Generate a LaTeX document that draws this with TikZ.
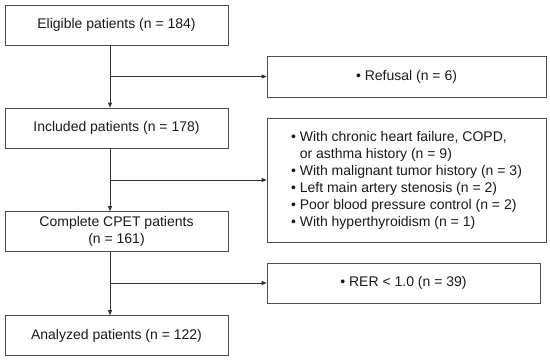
\documentclass[tikz,border=0pt]{standalone}
\usepackage{fontspec}
\setmainfont{Liberation Sans}
\usetikzlibrary{arrows.meta}

\begin{document}
\begin{tikzpicture}[x=1pt,y=-1pt,line width=0.7pt,>={Triangle[length=5pt,width=4pt]},
  box/.style={draw=black!70,rectangle,inner sep=0pt,minimum height=40pt,
    font=\fontsize{14}{17}\selectfont,text=black!90},
  mainbox/.style={box,minimum width=223pt},
  sidebox/.style={box,minimum width=279pt},
  flow/.style={draw=black!80,->}]
\def\sx{110} % x of the main flow line
\useasboundingbox (0,0) rectangle (550,360);
% ---- main column ----
\node[mainbox] (elig) at (116.5,25) {Eligible patients (n = 184)};
\node[mainbox] (incl) at (116.5,128) {Included patients (n = 178)};
\node[mainbox,align=center] (cpet) at (116.5,231.5) {Complete CPET patients\\(n = 161)};
\node[mainbox] (anal) at (116.5,335.5) {Analyzed patients (n = 122)};
\coordinate (spine) at (\sx,0);
% ---- exclusion boxes ----
\node[sidebox,minimum height=41pt] (refu) at (406.5,76.5) {\textbullet\ Refusal (n = 6)};
\node[sidebox,minimum height=124pt,align=left] (excl) at (406.5,180)
  {\textbullet\ With chronic heart failure, COPD,\\
   \phantom{\textbullet\ }or asthma history (n = 9)\\
   \textbullet\ With malignant tumor history (n = 3)\\
   \textbullet\ Left main artery stenosis (n = 2)\\
   \textbullet\ Poor blood pressure control (n = 2)\\
   \textbullet\ With hyperthyroidism (n = 1)};
\node[box,minimum width=273pt] (rer) at (403.5,283) {\textbullet\ RER < 1.0 (n = 39)};
% ---- connectors ----
\draw[flow] (elig.south -| spine) -- (incl.north -| spine);
\draw[flow] (incl.south -| spine) -- (cpet.north -| spine);
\draw[flow] (cpet.south -| spine) -- (anal.north -| spine);
\foreach \b in {refu,excl,rer}
  \draw[flow] (\b.west -| spine) -- (\b.west);
\end{tikzpicture}
\end{document}
